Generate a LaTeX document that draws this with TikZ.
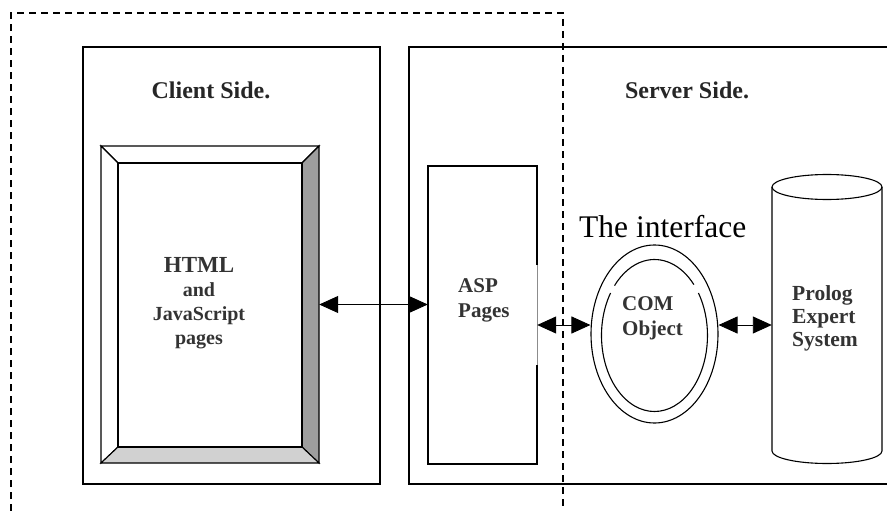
\documentclass[tikz,border=0pt]{standalone}
\usepackage{fontspec}
\setmainfont{Liberation Serif}
\usetikzlibrary{arrows.meta,shapes.geometric}

\tikzset{
  box/.style={draw, line width=1.4pt},
  edge/.style={draw, line width=1.1pt},
  frame/.style={line width=1.3pt, dash pattern=on 7pt off 5pt},
  title/.style={font=\fontsize{24}{26}\selectfont\bfseries, text=black!85, inner sep=0pt},
  lbl/.style={font=\fontsize{21}{25}\selectfont\bfseries, text=black!80, align=left, inner sep=0pt},
  link/.style={line width=0.9pt, {Triangle[length=19pt,width=17pt]}-{Triangle[length=19pt,width=17pt]}},
}

\begin{document}
\begin{tikzpicture}[x=1pt,y=-1pt]
    \useasboundingbox (0,0) rectangle (887,511);

    % Important coordinates are defined
    \coordinate (bev_out_nw) at (101,146);
    \coordinate (bev_out_se) at (319,463);
    \coordinate (bev_in_nw) at (118,163);
    \coordinate (bev_in_se) at (302,447);

    % client and server frames
    \draw[box] (83,47) rectangle (380,484);
    \draw[box] (887,47) -- (409,47) -- (409,484) -- (887,484);
    \node[title, anchor=base] (client_title) at (211,99) {Client Side.};
    \node[title, anchor=base] (server_title) at (687,99) {Server Side.};

    % bevelled page frame
    \node[minimum width=218pt, minimum height=317pt, inner sep=0pt] (bevel) at (210,304.5) {};
    \filldraw[edge, fill=white] (101,146) -- (319,146) -- (302,163) -- (118,163) -- cycle;
    \filldraw[edge, fill=white] (101,146) -- (118,163) -- (118,447) -- (101,463) -- cycle;
    \filldraw[edge, fill=black!38] (319,146) -- (319,463) -- (302,447) -- (302,163) -- cycle;
    \filldraw[edge, fill=black!18] (101,463) -- (319,463) -- (302,447) -- (118,447) -- cycle;
    \draw[edge] (bev_in_nw) rectangle (bev_in_se);
    \node[lbl, align=center, font=\fontsize{20}{24}\selectfont\bfseries] (html) at (199,303.5)
        {{\fontsize{23}{24}\selectfont HTML}\\and\\JavaScript\\pages};

    % ASP pages
    \node[minimum width=109pt, minimum height=298pt, inner sep=0pt] (asp) at (482.5,315) {};
    \draw[edge] (537,265) -- (537,166) -- (428,166) -- (428,464) -- (537,464) -- (537,365);
    \draw[line width=0.5pt, black!45] (537,265) -- (537,365);
    \node[lbl, anchor=west] (asp_txt) at (458,300) {ASP\\Pages};

    % the interface
    \node[font=\fontsize{31.5}{33}\selectfont, inner sep=0pt, anchor=base west] (iface) at (579,237) {The interface};
    \node[ellipse, draw, line width=1.1pt, minimum width=127pt, minimum height=178pt, inner sep=0pt] (com) at (654.5,334) {};
    \draw[line width=1.1pt] ([shift={(42:53pt and 76pt)}]654.5,335.5) arc[start angle=42, end angle=139, x radius=53pt, y radius=76pt];
    \draw[line width=1.1pt] ([shift={(146:53pt and 76pt)}]654.5,335.5) arc[start angle=146, end angle=394, x radius=53pt, y radius=76pt];
    \node[lbl, anchor=west] (com_txt) at (622,318.5) {COM\\Object};

    % expert system
    \node[minimum width=110pt, minimum height=288pt, inner sep=0pt] (prolog) at (827,319) {};
    \draw[edge] (772,187) -- (772,451) arc[start angle=180, end angle=360, x radius=55pt, y radius=12.5pt] -- (882,187);
    \draw[edge] (827,187) ellipse[x radius=55pt, y radius=12.5pt];
    \node[lbl, anchor=west, font=\fontsize{21.5}{23}\selectfont\bfseries] (prolog_txt) at (792,318) {Prolog\\Expert\\System};

    % connectors
    \draw[link] (bevel.east) -- (bevel.east -| asp.west);
    \draw[link] ([yshift=-10pt]asp.east) -- ([yshift=9pt]com.west);
    \draw[link] ([yshift=9pt]com.east) -- ([yshift=9pt]com.east -| prolog.west);

    % dashed client boundary
    \draw[frame] (11,511) -- (11,13) -- (563,13) -- (563,511);
\end{tikzpicture}
\end{document}
